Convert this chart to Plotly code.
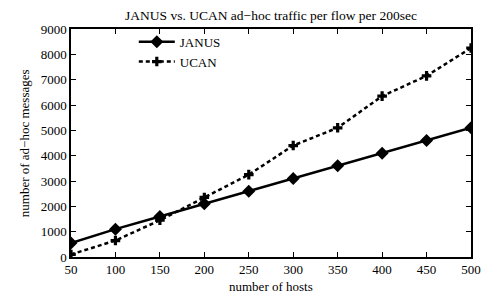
import plotly.graph_objects as go

hosts = [50, 100, 150, 200, 250, 300, 350, 400, 450, 500]
janus = [550, 1100, 1600, 2100, 2600, 3100, 3600, 4100, 4600, 5100]
ucan = [100, 650, 1450, 2350, 3250, 4400, 5100, 6350, 7150, 8250]
x_ticks = [50, 100, 150, 200, 250, 300, 350, 400, 450, 500]
y_ticks = [0, 1000, 2000, 3000, 4000, 5000, 6000, 7000, 8000, 9000]

FONT = "Liberation Serif"

fig = go.Figure()
fig.add_trace(go.Scatter(x=hosts, y=janus, name="JANUS", mode="lines+markers",
                         line=dict(color="black", width=2.5),
                         marker=dict(symbol="diamond", size=10, color="black")))
fig.add_trace(go.Scatter(x=hosts, y=ucan, name="UCAN", mode="lines+markers",
                         line=dict(color="black", width=2.5, dash="4px,3px"),
                         marker=dict(symbol="cross", size=8, color="black")))

axis_common = dict(showgrid=False, zeroline=False, showline=True, linecolor="black",
                   linewidth=1.5, mirror="ticks", ticks="inside", ticklen=5,
                   tickcolor="black", tickfont=dict(family=FONT, size=13, color="black"))

# page body has an 8px default margin, so the figure is sized to fit the window
fig.update_layout(
    width=485, height=289,
    margin=dict(l=63, r=13, t=21, b=40),
    paper_bgcolor="white", plot_bgcolor="white",
    title=dict(text="JANUS vs. UCAN ad\u2212hoc traffic per flow per 200sec",
               x=0.5, xref="paper", xanchor="center", y=0.976, yanchor="middle",
               font=dict(family=FONT, size=13.5, color="black")),
    xaxis=dict(range=[50, 500], tickvals=x_ticks, **axis_common),
    yaxis=dict(range=[0, 9000], tickvals=y_ticks, **axis_common),
    legend=dict(x=0.157, y=1.01, xanchor="left", yanchor="top", bgcolor="rgba(0,0,0,0)",
                font=dict(family=FONT, size=13, color="black"), tracegroupgap=0,
                itemwidth=36),
    showlegend=True,
    annotations=[
        dict(text="number of hosts", xref="paper", yref="paper", x=0.5, y=-0.13,
             xanchor="center", yanchor="middle", showarrow=False,
             font=dict(family=FONT, size=13, color="black")),
        dict(text="number of ad\u2212hoc messages", xref="paper", yref="paper",
             x=-0.117, y=0.5, xanchor="center", yanchor="middle", textangle=-90,
             showarrow=False, font=dict(family=FONT, size=13, color="black")),
    ],
)

fig.write_html("out.html")
